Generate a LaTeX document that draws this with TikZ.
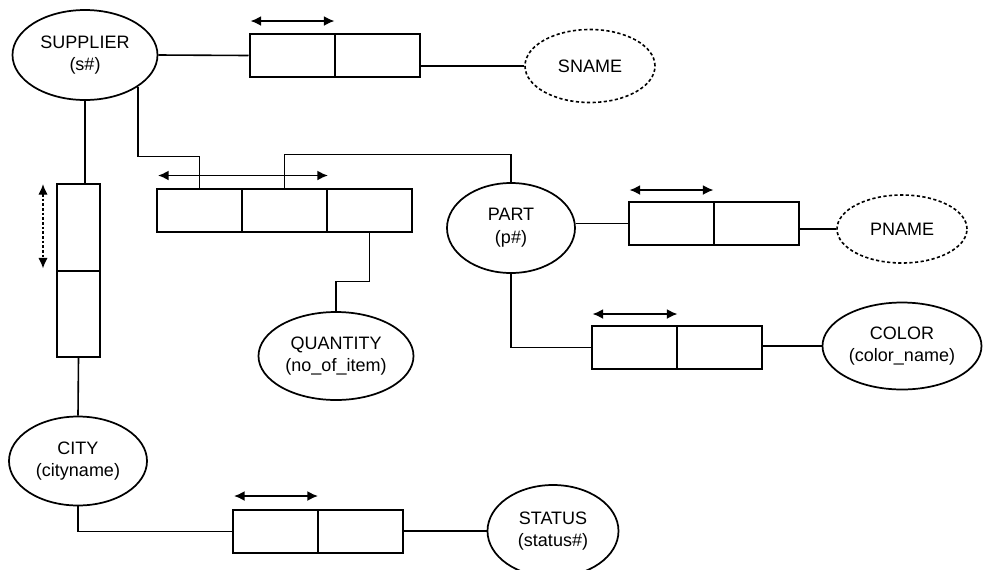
\documentclass[tikz,border=0pt]{standalone}
\usepackage{fontspec}
\setmainfont{Liberation Sans}
\usetikzlibrary{shapes.geometric,arrows.meta}
\newdimen\px \px=0.75pt
\begin{document}
\begin{tikzpicture}[x=0.75pt,y=-0.75pt,
  ent/.style={ellipse,draw,line width=1.3pt,inner sep=0pt,align=center,
    font=\fontsize{13.5pt}{17pt}\selectfont},
  attr/.style={ent,line width=1.2pt,dash pattern=on 2.4pt off 1.8pt},
  cell/.style={rectangle,draw,line width=1.5pt,inner sep=0pt,minimum width=85\px,minimum height=43\px},
  vcell/.style={rectangle,draw,line width=1.5pt,inner sep=0pt,minimum width=43\px,minimum height=86.5\px},
  conn/.style={line width=1.2pt},
  darr/.style={line width=1.3pt,{Latex[length=8pt,width=7.5pt]}-{Latex[length=8pt,width=7.5pt]}}
]
\useasboundingbox (0,0) rectangle (983,569);

% entity / attribute ellipses
\node[ent,minimum width=145\px,minimum height=90\px] (sup) at (85,55) {SUPPLIER\\(s\#)};
\node[attr,minimum width=130\px,minimum height=73\px] (sname) at (590,66) {SNAME};
\node[ent,minimum width=128\px,minimum height=90\px] (part) at (511,228) {PART\\(p\#)};
\node[attr,minimum width=130\px,minimum height=68\px] (pname) at (902,229) {PNAME};
\node[ent,minimum width=155\px,minimum height=88\px] (qty) at (336,356) {QUANTITY\\(no\_of\_item)};
\node[ent,minimum width=159\px,minimum height=87\px] (color) at (902,346) {COLOR\\(color\_name)};
\node[ent,minimum width=138\px,minimum height=89\px] (city) at (78,461) {CITY\\(cityname)};
\node[ent,minimum width=131\px,minimum height=92\px] (status) at (553,531) {STATUS\\(status\#)};

% relation boxes
\node[cell] (s1) at (292,55.5) {};
\node[cell] (s2) at (377,55.5) {};

\node[cell] (m1) at (199.5,210) {};
\node[cell] (m2) at (284.5,210) {};
\node[cell] (m3) at (369.5,210) {};

\node[vcell] (v1) at (78.5,227.25) {};
\node[vcell] (v2) at (78.5,313.75) {};

\node[cell] (p1) at (671,223.5) {};
\node[cell] (p2) at (756,223.5) {};

\node[cell] (c1) at (634,347.5) {};
\node[cell] (c2) at (719,347.5) {};

\node[cell] (t1) at (275.5,531.5) {};
\node[cell] (t2) at (360.5,531.5) {};

% double arrows above the key cells
\draw[darr] ([shift={(2,-12)}]s1.north west) -- ([shift={(-1,-12)}]s1.north east);
\draw[darr] ([shift={(2,-12)}]m1.north west) -- ([shift={(0,-12)}]m2.north east);
\draw[darr] ([shift={(2,-11)}]p1.north west) -- ([shift={(-1,-11)}]p1.north east);
\draw[darr] ([shift={(2,-11)}]c1.north west) -- ([shift={(0,-11)}]c1.north east);
\draw[darr] ([shift={(2,-13)}]t1.north west) -- ([shift={(-1,-13)}]t1.north east);
\coordinate (va) at ([shift={(-13,1)}]v1.north west);
\coordinate (vb) at ([shift={(-13,-3)}]v1.south west);
\draw[line width=1pt,dash pattern=on 2pt off 1.5pt,{Latex[length=8pt,width=7pt]}-{Latex[length=8pt,width=7pt]}] (va) -- (vb);

% connectors
\draw[conn] (sup.east) -- (s1.west);
\draw[conn] (s2.east |- sname.west) -- (sname.west);
\draw[conn] (sup.south) -- (sup.south |- v1.north);
\draw[conn] (v2.south) -- (city.north);
\draw[conn] (city.south) |- (t1.west);
\draw[conn] (t2.east |- status.west) -- (status.west);
\draw[conn] (sup.-31) |- ([yshift=23.25pt]m1.north) -- (m1.north);
\draw[conn] (m2.north) -- ++(0,-33) -| (part.north);
\draw[conn] (m3.south) -- ++(0,49) -| (qty.north);
\draw[conn] (part.east |- p1.west) -- (p1.west);
\draw[conn] (p2.east |- pname.west) -- (pname.west);
\draw[conn] (part.south) |- (c1.west);
\draw[conn] (c2.east |- color.west) -- (color.west);
\end{tikzpicture}
\end{document}
